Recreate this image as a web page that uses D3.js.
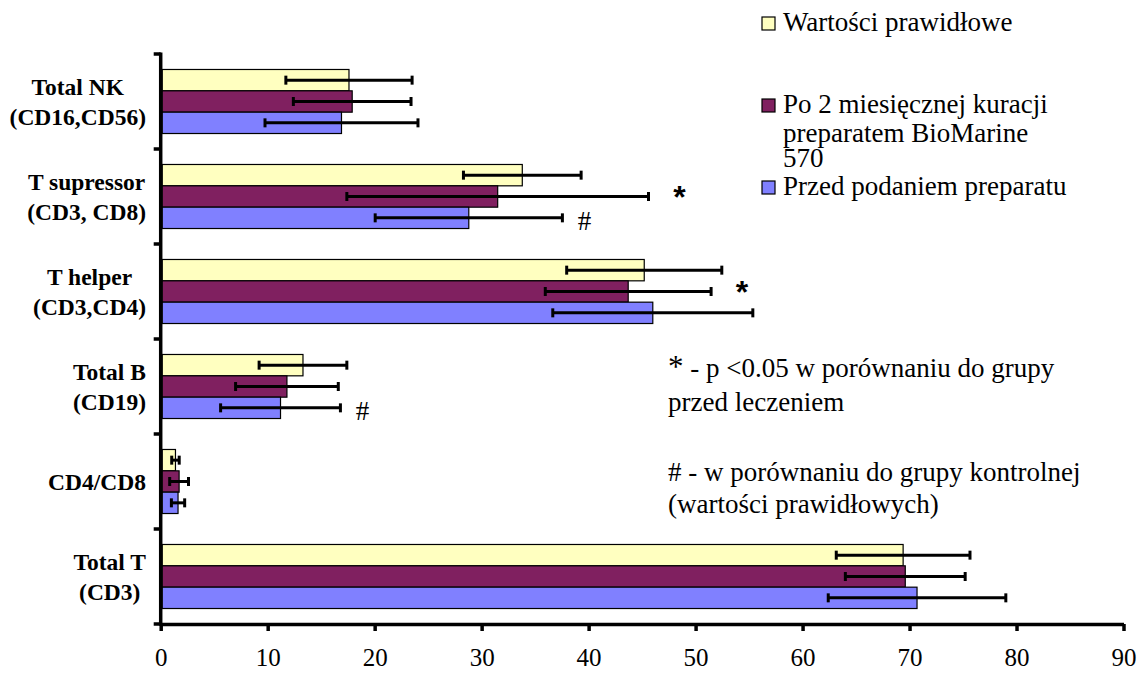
<!DOCTYPE html>
<html>
<head>
<meta charset="utf-8">
<script src="https://cdn.jsdelivr.net/npm/d3@7"></script>
<style>
  html, body { margin: 0; padding: 0; background: #fff; }
  svg { display: block; }
  .serif { font-family: "Liberation Serif", "Times New Roman", Times, serif; }
  .sans { font-family: "Liberation Sans", Arial, Helvetica, sans-serif; }
</style>
</head>
<body>
<svg id="chart" width="1142" height="675"></svg>
<script>
// ---- data ----
const categories = ["Total NK", "T supressor", "T helper", "Total B", "CD4/CD8", "Total T"];
const categoryLines = [
  ["Total NK", "(CD16,CD56)"],
  ["T supressor", "(CD3, CD8)"],
  ["T helper", "(CD3,CD4)"],
  ["Total B", "(CD19)"],
  ["CD4/CD8"],
  ["Total T", "(CD3)"]
];
const seriesNames = ["Wartości prawidłowe", "Po 2 miesięcznej kuracji preparatem BioMarine 570", "Przed podaniem preparatu"];
const legendLines = [
  ["Wartości prawidłowe"],
  ["Po 2 miesięcznej kuracji", "preparatem BioMarine", "570"],
  ["Przed podaniem preparatu"]
];
const seriesColors = ["#FFFFC0", "#802060", "#8080FF"];

const normalValues = [17.6, 33.8, 45.2, 13.3, 1.38, 69.4];
const afterValues  = [17.9, 31.5, 43.7, 11.8, 1.72, 69.6];
const beforeValues = [16.9, 28.8, 46.0, 11.2, 1.62, 70.7];

const normalErr = [5.9, 5.5, 7.25, 4.1, 0.35, 6.25];
const afterErr  = [5.5, 14.1, 7.75, 4.8, 0.88, 5.6];
const beforeErr = [7.15, 8.75, 9.35, 5.6, 0.62, 8.3];

const xTicks = [0, 10, 20, 30, 40, 50, 60, 70, 80, 90];

// significance markers: category, series index, symbol
const markers = [
  {cat: "T supressor", s: 1, sym: "*"},
  {cat: "T supressor", s: 2, sym: "#"},
  {cat: "T helper", s: 1, sym: "*"},
  {cat: "Total B", s: 2, sym: "#"}
];

const notes = [
  {star: "*", lines: [" - p <0.05 w porównaniu do grupy", "przed leczeniem"]},
  {star: null, lines: ["# - w porównaniu do grupy kontrolnej", "(wartości prawidłowych)"]}
];

// ---- build ----
const valuesBySeries = [normalValues, afterValues, beforeValues];
const errBySeries = [normalErr, afterErr, beforeErr];

const svg = d3.select("#chart");

const plotLeft = 160.7, plotRight = 1123.5, plotTop = 54, plotBottom = 624;

const x = d3.scaleLinear().domain([0, 90]).range([plotLeft, plotRight]);
const y = d3.scaleBand().domain(categories).range([plotTop, plotBottom]).padding(0);
const bw = y.bandwidth();
const y1 = d3.scaleBand().domain([0, 1, 2]).range([bw * 0.163, bw * 0.837]).padding(0);

const rows = [];
categories.forEach((c, i) => {
  for (let s = 0; s < 3; s++) {
    rows.push({cat: c, s, v: valuesBySeries[s][i], e: errBySeries[s][i]});
  }
});

// bars
svg.append("g").selectAll("rect").data(rows).join("rect")
  .attr("x", x(0) + 1.5)
  .attr("y", d => y(d.cat) + y1(d.s))
  .attr("width", d => x(d.v) - x(0) - 1.5)
  .attr("height", y1.bandwidth())
  .attr("fill", d => seriesColors[d.s])
  .attr("stroke", "#000")
  .attr("stroke-width", 1.2);

// error bars
const eg = svg.append("g").attr("stroke", "#000");
rows.forEach(d => {
  const cy = y(d.cat) + y1(d.s) + y1.bandwidth() / 2;
  const x0 = x(d.v - d.e), x1 = x(d.v + d.e);
  eg.append("line").attr("x1", x0).attr("x2", x1).attr("y1", cy).attr("y2", cy).attr("stroke-width", 3);
  [x0, x1].forEach(xx => {
    eg.append("line").attr("x1", xx).attr("x2", xx).attr("y1", cy - 4.5).attr("y2", cy + 4.5).attr("stroke-width", 3);
  });
});

// x axis
const xAxis = d3.axisBottom(x).tickValues(xTicks).tickSize(7).tickSizeOuter(0).tickPadding(26);
const gx = svg.append("g").attr("transform", `translate(0,${plotBottom})`).call(xAxis);
gx.attr("font-family", null).attr("font-size", null).attr("class", "serif");
gx.select(".domain").attr("stroke", "#000").attr("stroke-width", 3.5);
gx.selectAll(".tick line").attr("stroke", "#000").attr("stroke-width", 3.5);
gx.selectAll(".tick text")
  .attr("class", "serif").style("font-size", "25px").attr("fill", "#000")
  .attr("dy", "0.35em");

// y axis (line + boundary ticks)
const gy = svg.append("g");
gy.append("line").attr("x1", plotLeft).attr("x2", plotLeft).attr("y1", plotTop - 1.5).attr("y2", plotBottom + 1.75)
  .attr("stroke", "#000").attr("stroke-width", 3.5);
const boundaries = categories.map(c => y(c)).concat([plotBottom]);
gy.selectAll("line.bt").data(boundaries).join("line").attr("class", "bt")
  .attr("x1", plotLeft - 7).attr("x2", plotLeft).attr("y1", d => d).attr("y2", d => d)
  .attr("stroke", "#000").attr("stroke-width", 3.5);

// category labels
const labelRight = 146;
categories.forEach((c, i) => {
  const lines = categoryLines[i];
  const g = svg.append("g");
  const texts = lines.map((ln, k) => g.append("text")
    .attr("class", "serif").style("font-weight", "bold").style("font-size", "23.5px")
    .attr("fill", "#000").attr("text-anchor", "middle")
    .attr("y", y(c) + bw / 2 + (k - (lines.length - 1) / 2) * 30)
    .attr("dy", "0.35em").text(ln));
  const maxW = d3.max(texts, t => t.node().getComputedTextLength());
  texts.forEach(t => t.attr("x", labelRight - maxW / 2));
});

// significance markers
markers.forEach(m => {
  const i = categories.indexOf(m.cat);
  const v = valuesBySeries[m.s][i] + errBySeries[m.s][i];
  const cy = y(m.cat) + y1(m.s) + y1.bandwidth() / 2;
  if (m.sym === "*") {
    svg.append("text").attr("x", x(v) + 31).attr("y", cy + 11)
      .attr("class", "sans").style("font-weight", "bold")
      .style("font-size", "32px").attr("text-anchor", "middle").attr("fill", "#000").text("*");
  } else {
    svg.append("text").attr("x", x(v) + 22).attr("y", cy + 12)
      .attr("class", "serif").style("font-size", "27px")
      .attr("text-anchor", "middle").attr("fill", "#000").text("#");
  }
});

// legend
const legendX = 762;
const legendBase = [[31], [113, 142, 167], [195]];
legendLines.forEach((lines, s) => {
  const b0 = legendBase[s][0];
  svg.append("rect").attr("x", legendX).attr("y", b0 - 14).attr("width", 13).attr("height", 13)
    .attr("fill", seriesColors[s]).attr("stroke", "#000").attr("stroke-width", 1.2);
  lines.forEach((ln, k) => {
    svg.append("text").attr("x", 783).attr("y", legendBase[s][k])
      .attr("class", "serif").style("font-size", "27px").attr("fill", "#000").text(ln);
  });
});

// notes
const noteX = 668;
const noteBase = [[377, 411], [481, 513]];
notes.forEach((n, j) => {
  n.lines.forEach((ln, k) => {
    const t = svg.append("text").attr("x", noteX).attr("y", noteBase[j][k])
      .attr("class", "serif").style("font-size", "27px").attr("fill", "#000");
    if (k === 0 && n.star) {
      t.append("tspan").style("font-size", "31px").text(n.star);
      t.append("tspan").text(ln);
    } else {
      t.text(ln);
    }
  });
});
</script>
</body>
</html>
